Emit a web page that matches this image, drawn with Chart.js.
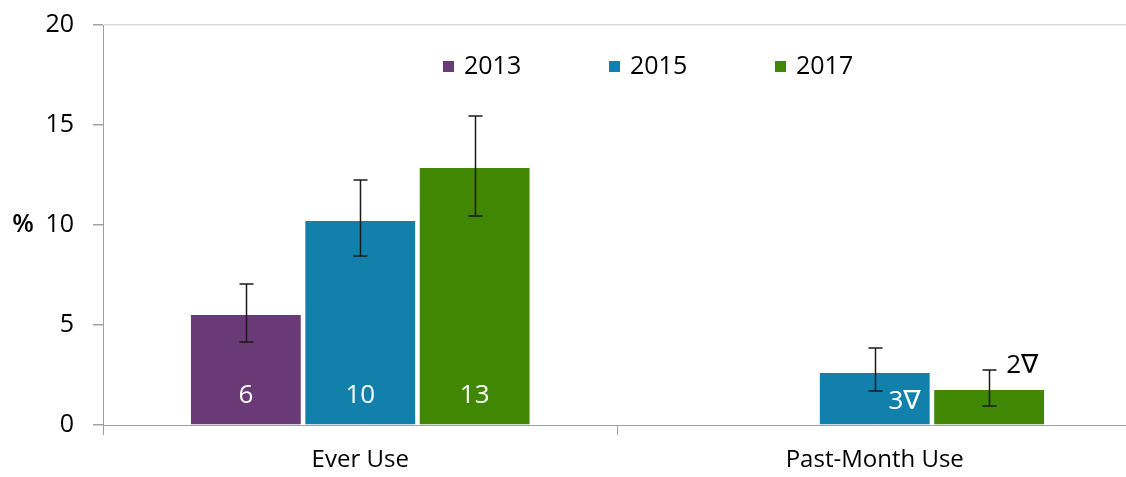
<!DOCTYPE html>
<html>
<head>
<meta charset="utf-8">
<script src="https://cdn.jsdelivr.net/npm/chart.js@4"></script>
<style>
  html, body { margin: 0; padding: 0; background: #fff; overflow: hidden; }
  /* o canvas sobe 9px para que o topo da área fique em y=25 */
  .wrap { position: absolute; left: 0; top: -9px; width: 1132px; height: 486px; }
</style>
</head>
<body>
<div class="wrap"><canvas id="useChart"></canvas></div>
<script>
// dados
const categories = ['Ever Use', 'Past-Month Use'];
const years = ['2013', '2015', '2017'];

const values2013 = [5.5, null];
const values2015 = [10.2, 2.6];
const values2017 = [12.85, 1.75];

const errLow2013 = [4.15, null];
const errHigh2013 = [7.05, null];
const errLow2015 = [8.45, 1.7];
const errHigh2015 = [12.25, 3.85];
const errLow2017 = [10.45, 0.95];
const errHigh2017 = [15.45, 2.75];

const labels2013 = ['6', null];
const labels2015 = ['10', '3∇'];
const labels2017 = ['13', '2∇'];

const yTicks = [0, 5, 10, 15, 20];

const colors = ['#6a3a77', '#1180aa', '#408704'];
const FONT = "'Open Sans', 'DejaVu Sans', sans-serif";

const seriesValues = [values2013, values2015, values2017];
const seriesLow = [errLow2013, errLow2015, errLow2017];
const seriesHigh = [errHigh2013, errHigh2015, errHigh2017];
const seriesLabels = [labels2013, labels2015, labels2017];

// onde cada rótulo fica (o padrão é dentro da barra, embaixo)
const labelPlacement = { '1:1': 'insideRight', '2:1': 'besideError' };

const errorBars = {
    id: 'errorBars',
    afterDatasetsDraw(chart) {
        const ctx = chart.ctx;
        const y = chart.scales.y;
        ctx.save();
        ctx.strokeStyle = '#1a1a1a';
        ctx.lineWidth = 1.5;
        chart.data.datasets.forEach((ds, di) => {
            const meta = chart.getDatasetMeta(di);
            meta.data.forEach((bar, i) => {
                const lo = seriesLow[di][i], hi = seriesHigh[di][i];
                if (lo == null || hi == null) return;
                const x = Math.round(bar.x) + 0.5;
                const yl = y.getPixelForValue(lo), yh = y.getPixelForValue(hi);
                ctx.beginPath();
                ctx.moveTo(x, yl); ctx.lineTo(x, yh);
                ctx.moveTo(x - 7, yl); ctx.lineTo(x + 7, yl);
                ctx.moveTo(x - 7, yh); ctx.lineTo(x + 7, yh);
                ctx.stroke();
            });
        });

        // rótulos de valor
        ctx.font = '26px ' + FONT;
        ctx.textBaseline = 'middle';
        chart.data.datasets.forEach((ds, di) => {
            const meta = chart.getDatasetMeta(di);
            meta.data.forEach((bar, i) => {
                const txt = seriesLabels[di][i];
                if (!txt) return;
                const mode = labelPlacement[di + ':' + i] || 'inside';
                if (mode === 'inside') {
                    ctx.fillStyle = '#ffffff';
                    ctx.textAlign = 'center';
                    ctx.fillText(txt, bar.x, bar.base - 29);
                } else if (mode === 'insideRight') {
                    ctx.fillStyle = '#ffffff';
                    ctx.textAlign = 'right';
                    ctx.fillText(txt, bar.x + bar.width / 2 - 9, bar.base - 23);
                } else {
                    ctx.fillStyle = '#000000';
                    ctx.textAlign = 'left';
                    ctx.fillText(txt, bar.x + 17, y.getPixelForValue(seriesHigh[di][i]) - 4);
                }
            });
        });
        ctx.restore();
    }
};

const extras = {
    id: 'extras',
    afterDraw(chart) {
        const ctx = chart.ctx;
        const top = chart.chartArea.top;
        ctx.save();
        // título do eixo Y
        ctx.fillStyle = '#000';
        ctx.font = '600 25px ' + FONT;
        ctx.textAlign = 'center';
        ctx.textBaseline = 'middle';
        ctx.fillText('%', 23, chart.scales.y.getPixelForValue(10));

        // legenda dentro da área do gráfico
        ctx.font = '25px ' + FONT;
        ctx.textAlign = 'left';
        chart.data.datasets.forEach((ds, di) => {
            const x = 443 + di * 166;
            ctx.fillStyle = ds.backgroundColor;
            ctx.fillRect(x, top + 36, 11, 11);
            ctx.fillStyle = '#000';
            ctx.fillText(ds.label, x + 21, top + 42);
        });
        ctx.restore();
    }
};

new Chart(document.getElementById('useChart'), {
    type: 'bar',
    data: {
        labels: categories,
        datasets: years.map((yr, i) => ({
            label: yr,
            data: seriesValues[i],
            backgroundColor: colors[i],
            borderWidth: 0,
            categoryPercentage: 0.667,
            barPercentage: 0.96
        }))
    },
    options: {
        responsive: true,
        maintainAspectRatio: false,
        animation: false,
        layout: { padding: { top: 17, right: 0, left: 0, bottom: 0 } },
        plugins: {
            legend: { display: false },
            tooltip: { enabled: false }
        },
        scales: {
            x: {
                grid: {
                    offset: true,
                    drawOnChartArea: false,
                    tickColor: '#a0a0a0',
                    tickLength: 10
                },
                border: { color: '#a0a0a0', width: 1 },
                ticks: {
                    color: '#000',
                    padding: 11,
                    font: { family: FONT, size: 24 }
                },
                afterFit: (s) => { s.height = 52; }
            },
            y: {
                min: 0,
                max: 20,
                afterBuildTicks: (s) => { s.ticks = yTicks.map(v => ({ value: v })); },
                grid: {
                    color: (c) => c.tick && c.tick.value === 20 ? '#d9d9d9' : 'rgba(0,0,0,0)',
                    lineWidth: 1.5,
                    tickColor: '#a0a0a0',
                    tickLength: 10
                },
                border: { color: '#a0a0a0', width: 1 },
                ticks: {
                    color: '#000',
                    padding: 19,
                    font: { family: FONT, size: 25 }
                },
                afterFit: (s) => { s.width = 103; }
            }
        }
    },
    plugins: [errorBars, extras]
});
</script>
</body>
</html>
